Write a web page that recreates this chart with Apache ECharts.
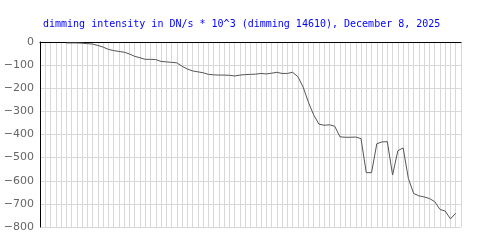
<!DOCTYPE html>
<html>
<head>
<meta charset="utf-8">
<script src="https://cdn.jsdelivr.net/npm/echarts@6/dist/echarts.min.js"></script>
<style>html,body{margin:0;padding:0;background:#fff}#c{width:500px;height:250px}</style>
</head>
<body>
<div id="c"></div>
<script>
var titleText = 'dimming intensity in DN/s * 10^3 (dimming 14610), December 8, 2025';
var yTicks = [0, -100, -200, -300, -400, -500, -600, -700, -800];
var xStart = 5;
var dimming = [
  -4, -4, -4, -5, -7, -9, -15, -22, -32, -37,
  -41, -44, -52, -62, -68, -75, -75, -76, -84, -86,
  -88, -90, -105, -117, -125, -129, -133, -140, -142, -143,
  -143, -144, -147, -143, -141, -140, -139, -136, -138, -135,
  -131, -136, -136, -131, -150, -195, -260, -315, -355, -360,
  -358, -364, -410, -412, -412, -411, -418, -565, -565, -440,
  -432, -431, -575, -470, -458, -590, -655, -665, -670, -677,
  -690, -724, -731, -765, -740
];
var points = dimming.map(function (v, i) { return [xStart + i, v]; });

var chart = echarts.init(document.getElementById('c'), null, {renderer: 'canvas'});
chart.setOption({
  animation: false,
  backgroundColor: '#fff',
  title: {
    text: titleText,
    left: 38, top: 14,
    textStyle: {color: '#0000ff', fontFamily: 'DejaVu Sans Mono', fontSize: 10, fontWeight: 'normal'}
  },
  grid: {left: 40, top: 42, right: 39, bottom: 23, containLabel: false},
  xAxis: {
    type: 'value', min: 0, max: 80, interval: 1,
    axisLine: {onZero: false, lineStyle: {color: '#000', width: 1}},
    position: 'top',
    axisTick: {show: false}, axisLabel: {show: false},
    splitLine: {show: true, lineStyle: {color: '#d8d8d8', width: 1}}
  },
  yAxis: {
    type: 'value', min: -800, max: 0, interval: 100,
    axisLine: {show: true, lineStyle: {color: '#000', width: 1}},
    axisTick: {show: false},
    axisLabel: {
      color: '#666', fontFamily: 'DejaVu Sans', fontSize: 11, margin: 6,
      formatter: function (v) { return yTicks.indexOf(v) >= 0 ? (v < 0 ? '\u2212' + (-v) : String(v)) : ''; }
    },
    splitLine: {show: true, lineStyle: {color: '#d8d8d8', width: 1}}
  },
  series: [{
    type: 'line', data: points, symbol: 'none',
    lineStyle: {color: '#555', width: 1}
  }]
});
</script>
</body>
</html>
